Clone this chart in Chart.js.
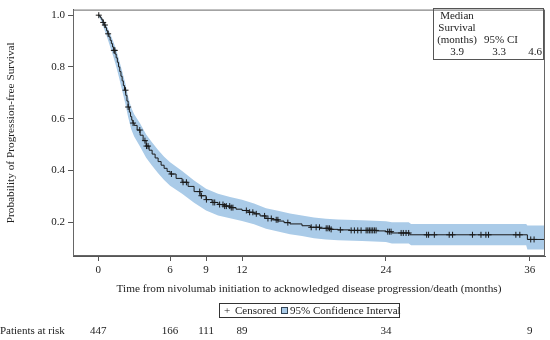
<!DOCTYPE html>
<html>
<head>
<meta charset="utf-8">
<script src="https://cdn.jsdelivr.net/npm/chart.js@4"></script>
<style>
  body { margin: 0; background: #fff; }
</style>
</head>
<body>
<canvas id="pfs" width="550" height="340"></canvas>
<script>
// Kaplan-Meier estimate (months, survival probability)
var kmTime = [0, 0.1, 0.2, 0.3, 0.4, 0.5, 0.6, 0.7, 0.8, 0.9, 1.0, 1.1, 1.2, 1.3, 1.4, 1.5, 1.6, 1.7, 1.8, 1.9,
  2.0, 2.1, 2.2, 2.3, 2.4, 2.5, 2.6, 2.7, 2.8, 2.9, 3.0,
  3.25, 3.5, 3.75, 4.0, 4.25, 4.5, 4.75, 5.0, 5.25, 5.5, 5.75, 6.0,
  6.5, 7.0, 7.5, 8.0, 8.5, 9.0, 9.5, 10.0, 10.5, 11.0, 11.5, 12.0, 12.5, 13.0, 13.5, 14.0, 14.5, 15.0, 15.5, 16.0,
  17.0, 17.7, 18.5, 19.3, 20.0, 21.0, 23.2, 24.0, 24.5, 26.0, 35.8, 37.27];
var kmSurv = [1.0, 0.996, 0.99, 0.982, 0.972, 0.962, 0.952, 0.94, 0.928, 0.916, 0.903, 0.89, 0.877, 0.864, 0.85, 0.835, 0.818, 0.80, 0.782, 0.764,
  0.746, 0.728, 0.71, 0.69, 0.668, 0.645, 0.625, 0.608, 0.594, 0.583, 0.574,
  0.556, 0.536, 0.515, 0.494, 0.478, 0.463, 0.448, 0.434, 0.42, 0.408, 0.396, 0.386,
  0.369, 0.354, 0.338, 0.318, 0.302, 0.287, 0.276, 0.268, 0.262, 0.256, 0.25, 0.245, 0.238, 0.232, 0.224, 0.214, 0.209, 0.204, 0.198, 0.193,
  0.186, 0.18, 0.176, 0.172, 0.17, 0.168, 0.166, 0.163, 0.158, 0.151, 0.133, 0.133];

// 95% confidence band edges
var ciTime = [0, 0.25, 0.5, 0.75, 1.0, 1.25, 1.5, 1.75, 2.0, 2.25, 2.5, 2.75, 3.0, 3.5, 4, 4.5, 5, 5.5, 6, 7, 8, 9, 10,
  11, 12, 13, 14, 15, 16, 17, 18, 19, 20, 22, 24, 24.5, 25.9, 26.1, 35.7, 35.8, 37.27];
var ciLow = [1.0, 0.978, 0.947, 0.914, 0.878, 0.842, 0.803, 0.757, 0.709, 0.661, 0.605, 0.56, 0.531, 0.491, 0.449, 0.418, 0.389, 0.363, 0.341, 0.31, 0.275, 0.245, 0.226,
  0.215, 0.204, 0.192, 0.174, 0.164, 0.153, 0.146, 0.138, 0.133, 0.13, 0.127, 0.123, 0.117, 0.117, 0.111, 0.111, 0.094, 0.094];
var ciHigh = [1.0, 0.995, 0.977, 0.954, 0.928, 0.899, 0.867, 0.826, 0.783, 0.739, 0.685, 0.643, 0.617, 0.581, 0.539, 0.508, 0.479, 0.453, 0.431, 0.398, 0.361, 0.329, 0.31,
  0.297, 0.286, 0.272, 0.254, 0.244, 0.233, 0.226, 0.218, 0.213, 0.21, 0.207, 0.203, 0.199, 0.199, 0.193, 0.193, 0.187, 0.187];

// censoring times (months)
var censorTime = [0.05, 0.42, 0.56, 0.83, 1.31, 1.39, 2.28, 2.5, 2.91, 3.47, 3.9, 4.03, 4.16, 6.11, 7.08, 7.36,
  8.47, 8.61, 9.03, 9.58, 9.72, 10.13, 10.41, 10.55, 10.69, 10.97, 11.1, 11.24, 12.36, 12.63, 12.9, 13.19,
  13.88, 14.16, 14.44, 14.85, 14.99, 15.82, 17.77, 18.18, 18.46, 19.02, 19.16, 19.29, 19.43, 20.2,
  21.1, 21.37, 21.65, 21.93, 22.35, 22.49, 22.62, 22.76, 22.9, 23.04, 23.18, 24.15, 24.29, 24.43,
  25.27, 25.45, 25.68, 25.9, 27.4, 27.56, 28.04, 29.28, 29.56, 31.22, 31.93, 32.34, 32.56, 34.84, 35.17, 36.08, 36.36];

var tickMonths = [0, 6, 9, 12, 24, 36];
var atRisk = [447, 166, 111, 89, 34, 9];
var yTicks = [0.2, 0.4, 0.6, 0.8, 1.0];

var median = "3.9", ciLo = "3.3", ciHi = "4.6";

var serif = '"Liberation Serif", "Times New Roman", serif';
var band = "rgb(170,203,232)";
var ink = "#1a1a1a";

function xy(xs, ys) {
  return xs.map(function (x, i) { return { x: x, y: ys[i] }; });
}

// censor marks sit on the curve: take the step value at that time
function survAt(t) {
  var v = kmSurv[0];
  for (var i = 0; i < kmTime.length; i++) {
    if (kmTime[i] <= t) v = kmSurv[i];
  }
  return v;
}

Chart.defaults.font.family = serif;
Chart.defaults.font.size = 11;
Chart.defaults.color = "#222";

var extras = {
  id: "extras",
  afterDraw: function (chart) {
    var c = chart.ctx, a = chart.chartArea, xs = chart.scales.x;
    c.save();
    // frame
    c.strokeStyle = "#666";
    c.lineWidth = 1;
    c.strokeRect(a.left + 0.5, a.top + 0.5, a.right - a.left - 1, a.bottom - a.top - 1);

    // median table
    c.strokeStyle = "#555";
    c.strokeRect(433.5, 8.5, 110, 51);
    c.fillStyle = "#222";
    c.font = "11px " + serif;
    c.textBaseline = "middle";
    c.textAlign = "center";
    c.fillText("Median", 457, 16);
    c.fillText("Survival", 457, 28);
    c.fillText("(months)", 457, 40);
    c.fillText("95% CI", 501, 40);
    c.fillText(ciLo, 499, 52);
    c.textAlign = "right";
    c.fillText(median, 464, 52);
    c.fillText(ciHi, 542, 52);

    // legend
    c.strokeStyle = "#333";
    c.strokeRect(219.5, 303.5, 180, 14);
    c.textAlign = "center";
    c.fillText("+", 227, 311);
    c.textAlign = "left";
    c.fillText("Censored", 235, 311);
    c.fillStyle = band;
    c.fillRect(281, 307, 7, 7);
    c.strokeStyle = "#345";
    c.strokeRect(281.5, 307.5, 6, 6);
    c.fillStyle = "#222";
    c.fillText("95% Confidence Interval", 290, 311);

    // patients at risk
    c.fillText("Patients at risk", 0, 331);
    c.textAlign = "center";
    tickMonths.forEach(function (m, i) {
      c.fillText(String(atRisk[i]), xs.getPixelForValue(m), 331);
    });
    c.restore();
  }
};

var ctx = document.getElementById("pfs").getContext("2d");
new Chart(ctx, {
  type: "line",
  data: {
    datasets: [
      {
        type: "scatter",
        data: censorTime.map(function (t) { return { x: t, y: survAt(t) }; }),
        pointStyle: "cross", pointRadius: 3, borderColor: ink, borderWidth: 1, showLine: false, order: 0
      },
      { data: xy(kmTime, kmSurv), stepped: true, borderColor: ink, borderWidth: 1, pointRadius: 0, fill: false, order: 1 },
      { data: xy(ciTime, ciHigh), borderColor: "transparent", borderWidth: 0, pointRadius: 0, fill: "+1", backgroundColor: band, order: 2 },
      { data: xy(ciTime, ciLow), borderColor: "transparent", borderWidth: 0, pointRadius: 0, fill: false, order: 3 }
    ]
  },
  options: {
    responsive: false,
    animation: false,
    devicePixelRatio: 1,
    layout: { padding: { left: 0, top: 5, right: 4, bottom: 44 } },
    plugins: { legend: { display: false }, tooltip: { enabled: false } },
    scales: {
      x: {
        type: "linear",
        min: -2.1,
        max: 37.27,
        afterBuildTicks: function (s) { s.ticks = tickMonths.map(function (v) { return { value: v }; }); },
        afterFit: function (s) { s.height = 40; },
        grid: { drawOnChartArea: false, tickLength: 5, color: "#555" },
        border: { color: "#555" },
        ticks: { padding: 3, autoSkip: false, maxRotation: 0 },
        title: {
          display: true,
          text: "Time from nivolumab initiation to acknowledged disease progression/death (months)",
          font: { size: 11.3 },
          padding: { top: 4, bottom: 0 }
        }
      },
      y: {
        min: 0.069,
        max: 1.0216,
        afterBuildTicks: function (s) { s.ticks = yTicks.map(function (v) { return { value: v }; }); },
        afterFit: function (s) { s.width = 73; },
        grid: { drawOnChartArea: false, tickLength: 5, color: "#555" },
        border: { color: "#555" },
        ticks: { padding: 3, callback: function (v) { return v.toFixed(1); } },
        title: {
          display: true,
          text: "Probability of Progression-free Survival",
          font: { size: 11.3 },
          padding: { top: 4, bottom: 0 }
        }
      }
    }
  },
  plugins: [extras]
});
</script>
</body>
</html>
